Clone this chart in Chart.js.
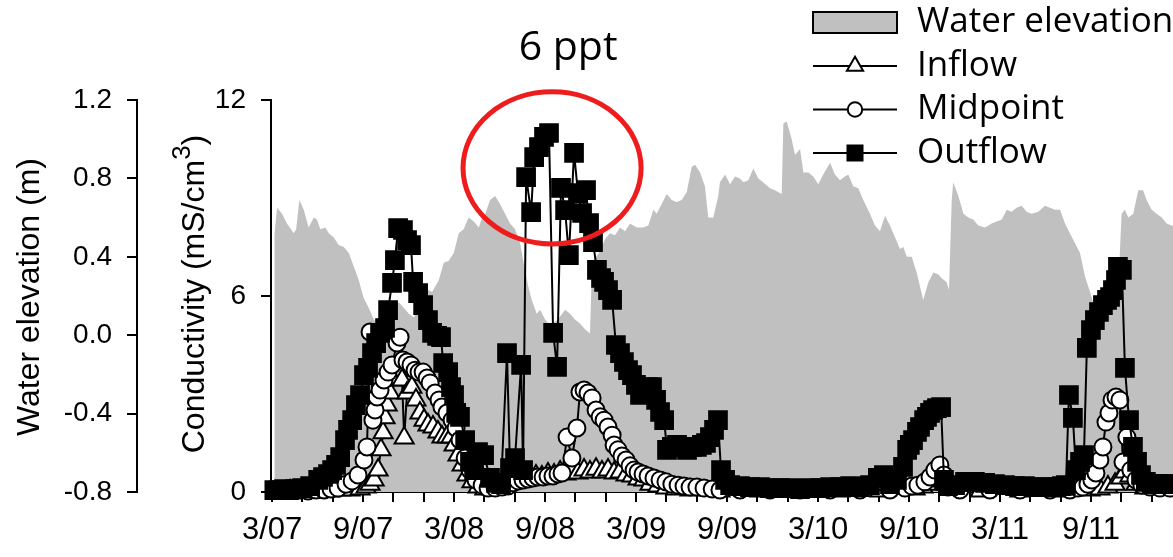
<!DOCTYPE html>
<html>
<head>
<meta charset="utf-8">
<script src="https://cdn.jsdelivr.net/npm/chart.js@4.4.1/dist/chart.umd.min.js"></script>
<style>
  html, body { margin: 0; padding: 0; background: #fff; overflow: hidden; }
  canvas { display: block; }
</style>
</head>
<body>
<canvas id="wetlandChart" width="1173" height="557"></canvas>
<script>
// x values are months since March 2007
const xTickLabels = ['3/07', '9/07', '3/08', '9/08', '3/09', '9/09', '3/10', '9/10', '3/11', '9/11'];
const elevTickLabels = ['-0.8', '-0.4', '0.0', '0.4', '0.8', '1.2'];
const condTickLabels = ['0', '6', '12'];

const elevMonths = [0.15, 0.33, 0.66, 0.98, 1.43, 1.59, 1.80, 2.09, 2.41, 2.75, 2.96, 3.18, 3.51, 3.74, 4.06, 4.39, 4.73, 5.06, 5.39, 5.72, 6.04, 6.37, 6.71, 7.12, 7.59, 7.98, 8.35, 8.68, 9.02, 9.34, 9.75, 10.33, 10.55, 10.99, 11.32, 11.65, 11.98, 12.31, 12.63, 12.96, 13.30, 13.63, 13.85, 14.06, 14.37, 14.71, 15.03, 15.36, 15.69, 16.02, 16.35, 16.61, 16.89, 17.12, 17.45, 17.67, 18.00, 18.32, 18.85, 19.32, 19.65, 19.97, 20.30, 20.63, 20.96, 21.10, 21.63, 21.95, 22.28, 22.61, 22.94, 23.28, 23.60, 24.04, 24.48, 24.81, 25.14, 25.36, 25.69, 26.02, 26.35, 26.67, 27.01, 27.34, 27.67, 27.89, 28.22, 28.54, 28.76, 29.09, 29.42, 29.53, 29.87, 30.20, 30.52, 30.85, 31.07, 31.40, 31.73, 32.06, 32.38, 32.83, 33.16, 33.60, 33.71, 33.93, 34.26, 34.48, 34.81, 35.03, 35.36, 35.68, 36.01, 36.34, 36.79, 37.11, 37.44, 37.77, 37.99, 38.32, 38.65, 38.98, 39.42, 39.75, 40.08, 40.41, 40.74, 41.07, 41.40, 41.62, 41.85, 42.17, 42.50, 42.93, 43.27, 43.60, 43.93, 44.15, 44.48, 44.63, 44.81, 44.91, 45.25, 45.58, 45.90, 46.23, 46.56, 47.01, 47.44, 47.77, 48.11, 48.44, 48.76, 49.09, 49.42, 49.75, 50.08, 50.52, 50.96, 51.29, 51.62, 51.95, 52.28, 52.60, 52.93, 53.27, 53.60, 53.93, 54.15, 54.36, 54.58, 55.25, 55.77, 55.90, 56.01, 56.23, 56.45, 56.78, 57.11, 57.43, 57.66, 57.99, 58.32, 58.66, 58.98, 59.31, 59.53];
const elevValues = [0.51, 0.65, 0.62, 0.57, 0.52, 0.54, 0.69, 0.64, 0.55, 0.60, 0.59, 0.54, 0.55, 0.52, 0.50, 0.46, 0.45, 0.42, 0.35, 0.28, 0.19, 0.14, 0.08, 0.04, 0.02, 0.10, 0.17, 0.14, 0.11, 0.09, 0.15, 0.23, 0.22, 0.28, 0.37, 0.38, 0.42, 0.52, 0.54, 0.60, 0.58, 0.55, 0.60, 0.62, 0.69, 0.71, 0.67, 0.62, 0.57, 0.54, 0.47, 0.36, 0.25, 0.18, 0.11, 0.13, 0.08, 0.05, 0.08, 0.13, 0.11, 0.08, 0.06, 0.03, 0.01, 0.37, 0.43, 0.49, 0.52, 0.51, 0.55, 0.53, 0.57, 0.55, 0.55, 0.56, 0.64, 0.62, 0.67, 0.72, 0.69, 0.68, 0.69, 0.73, 0.86, 0.87, 0.83, 0.76, 0.60, 0.60, 0.71, 0.78, 0.82, 0.77, 0.81, 0.80, 0.78, 0.79, 0.85, 0.80, 0.78, 0.75, 0.74, 0.72, 1.08, 1.09, 1.00, 0.92, 0.95, 0.83, 0.83, 0.81, 0.77, 0.82, 0.88, 0.82, 0.79, 0.81, 0.82, 0.76, 0.75, 0.69, 0.62, 0.56, 0.53, 0.61, 0.56, 0.50, 0.44, 0.45, 0.40, 0.40, 0.32, 0.18, 0.27, 0.32, 0.31, 0.29, 0.27, 0.23, 0.69, 0.78, 0.71, 0.62, 0.60, 0.59, 0.56, 0.55, 0.57, 0.58, 0.59, 0.64, 0.63, 0.65, 0.66, 0.63, 0.62, 0.63, 0.66, 0.65, 0.64, 0.64, 0.57, 0.52, 0.47, 0.42, 0.30, 0.22, 0.16, 0.18, 0.16, 0.15, 0.18, 0.43, 0.62, 0.64, 0.60, 0.62, 0.74, 0.74, 0.69, 0.64, 0.62, 0.60, 0.57, 0.56, 0.56];

const inflowMonths = [1.19, 1.84, 2.51, 3.16, 3.82, 4.49, 5.14, 5.80, 6.20, 6.46, 6.73, 6.99, 7.18, 7.32, 7.45, 7.59, 7.78, 7.98, 8.31, 8.57, 8.71, 8.90, 9.22, 9.49, 9.75, 10.02, 10.28, 10.61, 10.94, 11.20, 11.53, 11.80, 12.00, 12.26, 12.53, 12.85, 13.18, 13.58, 14.03, 14.50, 14.90, 15.36, 15.82, 16.22, 16.61, 17.01, 17.40, 17.79, 18.19, 18.59, 18.99, 19.38, 19.77, 20.17, 20.57, 20.96, 21.36, 21.75, 22.15, 22.55, 22.94, 23.34, 23.73, 24.13, 24.52, 24.92, 25.44, 25.97, 26.62, 27.56, 29.53, 32.17, 34.81, 37.44, 40.08, 42.39, 42.91, 43.38, 43.76, 44.17, 44.49, 44.81, 46.69, 49.31, 51.95, 53.93, 54.58, 55.11, 55.58, 55.96, 56.23, 56.56, 56.96, 57.55, 58.54, 59.33];
const inflowValues = [0.03, 0.03, 0.03, 0.03, 0.03, 0.06, 0.06, 0.09, 0.15, 0.24, 0.37, 0.67, 1.29, 1.81, 2.27, 2.66, 3.03, 3.43, 3.73, 3.43, 1.65, 3.03, 3.21, 2.82, 2.42, 2.2, 2.05, 1.99, 1.84, 1.68, 1.68, 1.68, 1.44, 1.13, 0.83, 0.52, 0.31, 0.15, 0.09, 0.09, 0.12, 0.18, 0.28, 0.34, 0.43, 0.4, 0.49, 0.46, 0.55, 0.52, 0.61, 0.55, 0.64, 0.58, 0.67, 0.61, 0.7, 0.61, 0.67, 0.58, 0.61, 0.52, 0.49, 0.4, 0.37, 0.24, 0.18, 0.12, 0.09, 0.06, 0.03, 0.03, 0.03, 0.03, 0.03, 0.09, 0.15, 0.24, 0.34, 0.4, 0.24, 0.09, 0.03, 0.03, 0.03, 0.06, 0.09, 0.15, 0.24, 0.43, 0.61, 0.49, 0.24, 0.12, 0.09, 0.09];

const midpointMonths = [1.39, 1.84, 2.37, 2.90, 3.43, 3.89, 4.35, 4.88, 5.28, 5.67, 6.06, 6.26, 6.46, 6.65, 6.79, 6.92, 7.12, 7.38, 7.65, 7.91, 8.24, 8.44, 8.63, 8.90, 9.16, 9.43, 9.69, 9.96, 10.22, 10.42, 10.75, 11.01, 11.20, 11.53, 11.87, 12.13, 12.39, 12.73, 13.05, 13.45, 13.85, 14.24, 14.71, 15.16, 15.56, 15.89, 16.22, 16.55, 16.88, 17.20, 17.53, 17.87, 18.19, 18.52, 18.85, 19.12, 19.45, 19.77, 20.10, 20.30, 20.57, 20.83, 21.10, 21.36, 21.63, 21.89, 22.15, 22.42, 22.55, 22.81, 23.07, 23.34, 23.60, 23.87, 24.13, 24.46, 24.79, 25.18, 25.58, 25.97, 26.36, 26.77, 27.16, 27.56, 28.01, 28.48, 29.02, 29.53, 30.85, 32.83, 34.81, 36.79, 38.76, 40.74, 41.73, 42.19, 42.58, 43.04, 43.38, 43.70, 44.03, 44.30, 44.56, 45.35, 47.33, 49.31, 51.29, 52.60, 53.13, 53.46, 53.79, 54.05, 54.32, 54.58, 54.78, 54.98, 55.18, 55.38, 55.64, 55.90, 56.10, 56.36, 56.62, 56.96, 57.35, 57.88, 58.54, 59.19];
const midpointValues = [0.06, 0.06, 0.03, 0.06, 0.06, 0.09, 0.12, 0.24, 0.34, 0.52, 0.98, 1.38, 4.9, 2.2, 2.51, 2.91, 3.12, 3.43, 3.67, 3.89, 4.56, 4.74, 4.04, 3.98, 3.89, 3.73, 3.67, 3.67, 3.49, 3.34, 3.03, 2.82, 2.6, 2.42, 2.2, 1.96, 1.59, 1.04, 0.67, 0.37, 0.21, 0.12, 0.12, 0.15, 0.18, 0.28, 0.34, 0.37, 0.4, 0.43, 0.46, 0.46, 0.49, 0.49, 0.55, 0.58, 1.68, 1.04, 1.96, 3.06, 3.12, 3.03, 2.88, 2.51, 2.3, 2.2, 1.99, 1.74, 1.44, 1.29, 1.1, 0.98, 0.8, 0.67, 0.61, 0.55, 0.49, 0.43, 0.37, 0.31, 0.24, 0.21, 0.18, 0.15, 0.15, 0.12, 0.09, 0.06, 0.06, 0.06, 0.06, 0.06, 0.06, 0.06, 0.12, 0.18, 0.21, 0.31, 0.46, 0.67, 0.83, 0.52, 0.15, 0.06, 0.06, 0.06, 0.06, 0.06, 0.12, 0.15, 0.24, 0.37, 0.58, 0.98, 1.38, 2.14, 2.42, 2.82, 2.91, 2.82, 0.92, 1.68, 0.67, 0.37, 0.21, 0.15, 0.12, 0.12];

const outflowMonths = [0.15, 0.47, 0.79, 1.12, 1.51, 1.98, 2.51, 3.04, 3.36, 3.69, 3.96, 4.22, 4.49, 4.81, 5.01, 5.28, 5.53, 5.80, 6.06, 6.33, 6.59, 6.86, 7.12, 7.45, 7.65, 7.91, 8.10, 8.31, 8.63, 8.90, 9.16, 9.30, 9.63, 9.96, 10.28, 10.55, 10.88, 11.14, 11.28, 11.61, 11.80, 12.00, 12.14, 12.39, 12.73, 13.05, 13.32, 13.58, 13.98, 14.37, 14.77, 15.10, 15.49, 15.69, 16.02, 16.42, 16.55, 16.75, 17.08, 17.28, 17.60, 17.93, 18.26, 18.53, 18.79, 19.05, 19.32, 19.57, 19.91, 20.17, 20.44, 20.70, 20.90, 21.16, 21.42, 21.69, 21.89, 22.15, 22.42, 22.67, 22.94, 23.20, 23.47, 23.73, 23.99, 24.26, 24.52, 24.79, 25.05, 25.32, 25.58, 25.85, 26.04, 26.36, 26.70, 27.03, 27.36, 27.68, 28.01, 28.34, 28.61, 28.87, 29.14, 29.40, 29.60, 29.87, 30.20, 30.85, 31.51, 32.17, 32.83, 33.49, 34.15, 34.81, 35.46, 36.13, 36.79, 37.44, 38.11, 38.76, 39.42, 39.94, 40.34, 40.74, 41.20, 41.60, 41.87, 42.05, 42.26, 42.52, 42.72, 42.99, 43.18, 43.38, 43.58, 43.84, 44.11, 44.30, 44.56, 45.03, 45.69, 46.34, 47.01, 47.66, 48.32, 48.98, 49.64, 50.30, 50.96, 51.62, 52.07, 52.34, 52.54, 52.80, 53.00, 53.27, 53.53, 53.72, 53.99, 54.25, 54.52, 54.78, 55.05, 55.25, 55.44, 55.64, 55.77, 56.03, 56.23, 56.50, 56.76, 57.03, 57.29, 57.61, 58.00, 58.41, 58.80, 59.19];
const outflowValues = [0.06, 0.06, 0.09, 0.06, 0.09, 0.12, 0.18, 0.37, 0.46, 0.55, 0.67, 0.83, 1.07, 1.59, 1.9, 2.2, 2.66, 2.97, 3.58, 3.8, 4.25, 4.56, 4.87, 5.02, 5.57, 6.4, 7.1, 8.08, 8.02, 7.71, 7.56, 6.43, 6.09, 5.72, 5.26, 4.87, 4.78, 4.74, 3.95, 3.67, 3.21, 2.97, 2.42, 2.3, 1.59, 0.92, 0.67, 1.22, 1.13, 0.43, 0.28, 0.24, 4.25, 0.73, 1.04, 3.89, 0.67, 9.64, 8.57, 10.25, 10.56, 10.87, 10.99, 4.87, 3.83, 9.31, 8.63, 7.25, 10.38, 9.15, 8.54, 9.24, 8.23, 7.65, 6.8, 6.55, 6.43, 6.18, 5.88, 4.5, 4.25, 3.98, 3.73, 3.58, 3.28, 2.97, 3.12, 3.21, 3.21, 2.82, 2.45, 2.2, 1.29, 1.38, 1.44, 1.38, 1.29, 1.38, 1.38, 1.44, 1.5, 1.68, 1.9, 2.2, 0.67, 0.37, 0.21, 0.18, 0.15, 0.15, 0.12, 0.12, 0.12, 0.09, 0.12, 0.12, 0.15, 0.15, 0.18, 0.15, 0.21, 0.43, 0.52, 0.24, 0.37, 0.77, 1.29, 1.44, 1.59, 1.84, 1.99, 2.2, 2.3, 2.42, 2.51, 2.57, 2.6, 0.37, 0.18, 0.21, 0.31, 0.31, 0.28, 0.24, 0.21, 0.18, 0.18, 0.15, 0.15, 0.15, 0.18, 0.21, 2.97, 2.27, 0.67, 0.92, 1.13, 4.41, 4.96, 5.26, 5.51, 5.72, 5.88, 5.97, 6.18, 6.49, 6.89, 6.8, 3.8, 2.2, 1.38, 0.92, 0.52, 0.31, 0.24, 0.24, 0.24, 0.24];

// highlighted peak (month, mS/cm) and its label
const peakNote = { month: 18.46, value: 9.92, spanMonths: 5.87, spanValue: 2.33, labelMonth: 19.52, text: '6 ppt' };

const toPoints = (xs, ys) => xs.map((x, i) => ({ x: x, y: ys[i] }));

const AXIS_FONT = '"Liberation Sans", Arial, sans-serif';
const LEGEND_FONT = '"Open Sans", "Liberation Sans", sans-serif';

const series = [
  { label: 'Inflow', style: 'triangle', radius: 11, fill: '#ffffff' },
  { label: 'Midpoint', style: 'circle', radius: 8.5, fill: '#ffffff' },
  { label: 'Outflow', style: 'rect', radius: 12.5, fill: '#000000' }
];

const overlayPlugin = {
  id: 'overlay',
  afterDraw(chart) {
    const { ctx, scales: { x, yCond } } = chart;
    ctx.save();
    ctx.fillStyle = '#000';

    // left axis titles
    ctx.font = '32px ' + AXIS_FONT;
    ctx.textAlign = 'center';
    ctx.textBaseline = 'middle';
    ctx.save();
    ctx.translate(30, 297);
    ctx.rotate(-Math.PI / 2);
    ctx.fillText('Water elevation (m)', 0, 0);
    ctx.restore();

    ctx.save();
    ctx.translate(193, 294);
    ctx.rotate(-Math.PI / 2);
    ctx.textAlign = 'left';
    ctx.textBaseline = 'alphabetic';
    const main = 'Conductivity (mS/cm';
    ctx.font = '32px ' + AXIS_FONT;
    const wMain = ctx.measureText(main).width;
    const wClose = ctx.measureText(')').width;
    ctx.font = '26px ' + AXIS_FONT;
    const wSup = ctx.measureText('3').width;
    let cx = -(wMain + wSup + wClose) / 2;
    ctx.font = '32px ' + AXIS_FONT;
    ctx.fillText(main, cx, 11);
    cx += wMain;
    ctx.font = '26px ' + AXIS_FONT;
    ctx.fillText('3', cx, -3);
    cx += wSup;
    ctx.font = '32px ' + AXIS_FONT;
    ctx.fillText(')', cx, 11);
    ctx.restore();

    // legend
    const lx0 = 813, lx1 = 897, tx = 917;
    ctx.font = '35px ' + LEGEND_FONT;
    ctx.textAlign = 'left';
    ctx.textBaseline = 'middle';
    ctx.fillStyle = '#c0c0c0';
    ctx.fillRect(lx0, 12, lx1 - lx0, 21);
    ctx.strokeStyle = '#000';
    ctx.lineWidth = 2;
    ctx.strokeRect(lx0, 12, lx1 - lx0, 21);
    ctx.fillStyle = '#000';
    ctx.fillText('Water elevation', tx, 22);
    series.forEach((s, i) => {
      const ly = 66 + i * 43.5;
      ctx.beginPath();
      ctx.moveTo(lx0, ly);
      ctx.lineTo(lx1, ly);
      ctx.strokeStyle = '#000';
      ctx.lineWidth = 2;
      ctx.stroke();
      ctx.fillStyle = s.fill;
      Chart.helpers.drawPoint(ctx, { pointStyle: s.style, radius: s.radius * 0.85, rotation: 0, borderWidth: 2 }, (lx0 + lx1) / 2, ly);
      ctx.fillStyle = '#000';
      ctx.fillText(s.label, tx, ly);
    });

    // ring around the 2008 outflow peak
    const ex = x.getPixelForValue(peakNote.month);
    const ey = yCond.getPixelForValue(peakNote.value);
    const rx = x.getPixelForValue(peakNote.month + peakNote.spanMonths) - ex;
    const ry = ey - yCond.getPixelForValue(peakNote.value + peakNote.spanValue);
    ctx.beginPath();
    ctx.ellipse(ex, ey, rx, ry, 0, 0, Math.PI * 2);
    ctx.strokeStyle = '#ee1c1c';
    ctx.lineWidth = 5;
    ctx.stroke();

    ctx.fillStyle = '#000';
    ctx.font = '41px ' + LEGEND_FONT;
    ctx.textAlign = 'center';
    ctx.textBaseline = 'middle';
    ctx.fillText(peakNote.text, x.getPixelForValue(peakNote.labelMonth), 48);
    ctx.restore();
  }
};

const markerSet = (s) => ({
  label: s.label,
  yAxisID: 'yCond',
  borderColor: '#000',
  borderWidth: 2,
  pointStyle: s.style,
  pointRadius: s.radius,
  pointBackgroundColor: s.fill,
  pointBorderColor: '#000',
  pointBorderWidth: 2,
  tension: 0,
  fill: false,
  clip: false
});

const ctx = document.getElementById('wetlandChart').getContext('2d');
new Chart(ctx, {
  type: 'line',
  plugins: [overlayPlugin],
  data: {
    datasets: [
      Object.assign(markerSet(series[2]), { data: toPoints(outflowMonths, outflowValues), order: 1 }),
      Object.assign(markerSet(series[1]), { data: toPoints(midpointMonths, midpointValues), order: 2 }),
      Object.assign(markerSet(series[0]), { data: toPoints(inflowMonths, inflowValues), order: 3 }),
      {
        label: 'Water elevation',
        yAxisID: 'yElev',
        data: toPoints(elevMonths, elevValues),
        backgroundColor: '#c0c0c0',
        borderColor: '#c0c0c0',
        borderWidth: 0,
        pointRadius: 0,
        tension: 0,
        fill: 'start',
        order: 4
      }
    ]
  },
  options: {
    responsive: false,
    animation: false,
    devicePixelRatio: 1,
    events: [],
    layout: { autoPadding: false, padding: { top: 100, right: 0, bottom: 0, left: 0 } },
    plugins: {
      legend: { display: false },
      tooltip: { enabled: false }
    },
    scales: {
      x: {
        type: 'linear',
        position: 'bottom',
        min: -0.07,
        max: 59.4,
        afterFit: (s) => {
          s.height = 65;
          s.paddingLeft = 0;
          s.paddingRight = 0;
        },
        border: { display: true, color: '#000', width: 2 },
        grid: { drawOnChartArea: false, drawTicks: true, tickLength: 10, color: '#000', lineWidth: 2 },
        ticks: {
          stepSize: 2,
          includeBounds: false,
          autoSkip: false,
          maxRotation: 0,
          color: '#000',
          padding: 10,
          font: { family: AXIS_FONT, size: 31 },
          callback: (v) => {
            const m = Math.round(v);
            return m % 6 === 0 ? (xTickLabels[m / 6] || '') : '';
          }
        }
      },
      yCond: {
        type: 'linear',
        position: 'left',
        weight: 0,
        min: 0,
        max: 12,
        afterFit: (s) => {
          s.width = 134;
          s.paddingTop = 0;
          s.paddingBottom = 0;
        },
        border: { display: true, color: '#000', width: 2 },
        grid: { drawOnChartArea: false, tickLength: 10, color: '#000', lineWidth: 2 },
        ticks: {
          stepSize: 6,
          color: '#000',
          padding: 15,
          font: { family: AXIS_FONT, size: 28 },
          callback: (v, i) => condTickLabels[i]
        }
      },
      yElev: {
        type: 'linear',
        position: 'left',
        weight: 1,
        min: -0.8,
        max: 1.2,
        afterFit: (s) => {
          s.width = 137;
          s.paddingTop = 0;
          s.paddingBottom = 0;
        },
        border: { display: true, color: '#000', width: 2 },
        grid: { drawOnChartArea: false, tickLength: 10, color: '#000', lineWidth: 2 },
        ticks: {
          stepSize: 0.4,
          color: '#000',
          padding: 15,
          font: { family: AXIS_FONT, size: 28 },
          callback: (v, i) => elevTickLabels[i]
        }
      }
    }
  }
});
</script>
</body>
</html>
